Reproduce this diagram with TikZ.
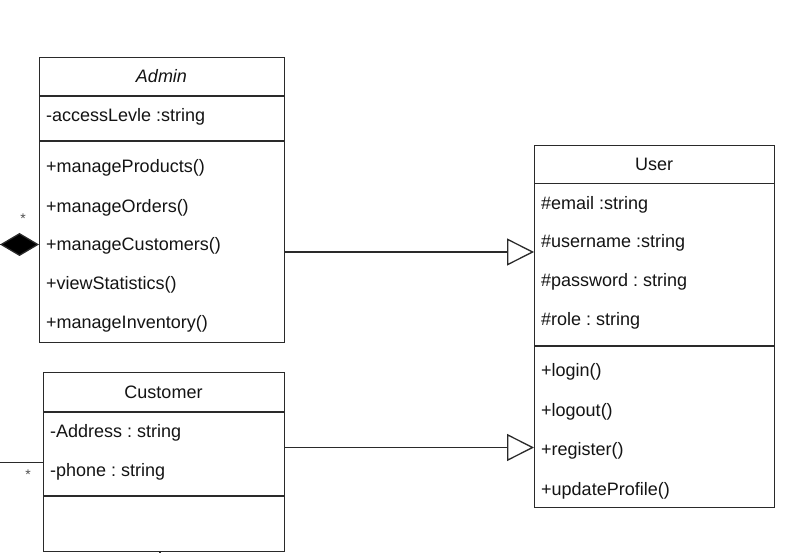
\documentclass[tikz,border=0pt]{standalone}
\usepackage{fontspec}
\setmainfont{Liberation Sans}
\usetikzlibrary{arrows.meta}
\definecolor{ink}{HTML}{141414}
\definecolor{edge}{HTML}{2A2A2A}
\frenchspacing
\begin{document}
\begin{tikzpicture}[x=1pt,y=-1pt,
  classbox/.style={draw=edge,line width=1.3pt,fill=white,rectangle,inner sep=0pt,anchor=north west},
  sep/.style={draw=edge,line width=1.3pt},
  txt/.style={inner sep=0pt,anchor=base west,text=ink,font=\fontsize{18}{20}\selectfont},
  ttl/.style={inner sep=0pt,anchor=base,text=ink,font=\fontsize{18}{20}\selectfont},
  mult/.style={inner sep=0pt,text=ink!75,font=\fontsize{14}{15}\selectfont},
  link/.style={draw=edge,line width=1.3pt},
  inherit/.style={link,-{Triangle[open,length=27pt,width=27pt,line width=1.3pt]}},
  compose/.style={link,{Diamond[length=39pt,width=23pt,fill=black]}-}
]
\useasboundingbox (0,0) rectangle (790,553);

% ---------- Admin ----------
\node[classbox,minimum width=245pt,minimum height=285pt] (admin) at (39,57) {};
\draw[sep] (39,96) -- (284,96);
\draw[sep] (39,141) -- (284,141);
\node[ttl] (adminT) at (161.5,83) {\itshape Admin};
\node[txt] (a1) at (46,122) {-accessLevle :string};
\node[txt] (a2) at (46,173) {+manageProducts()};
\node[txt] (a3) at (46,213) {+manageOrders()};
\node[txt] (a4) at (46,251) {+manageCustomers()};
\node[txt] (a5) at (46,290) {+viewStatistics()};
\node[txt] (a6) at (46,329) {+manageInventory()};

% ---------- Customer ----------
\node[classbox,minimum width=241pt,minimum height=179pt] (cust) at (43,372) {};
\draw[sep] (43,412) -- (284,412);
\draw[sep] (43,496) -- (284,496);
\node[ttl] (custT) at (163.5,398) {Customer};
\node[txt] (c1) at (50,437) {-Address : string};
\node[txt] (c2) at (50,476) {-phone : string};

% ---------- User ----------
\node[classbox,minimum width=240pt,minimum height=362pt] (user) at (534,145) {};
\draw[sep] (534,183.5) -- (774,183.5);
\draw[sep] (534,346) -- (774,346);
\node[ttl] (userT) at (654,171) {User};
\node[txt] (u1) at (541,210) {\#email :string};
\node[txt] (u2) at (541,248) {\#username :string};
\node[txt] (u3) at (541,287) {\#password : string};
\node[txt] (u4) at (541,326) {\#role : string};
\node[txt] (u5) at (541,377) {+login()};
\node[txt] (u6) at (541,416) {+logout()};
\node[txt] (u7) at (541,455) {+register()};
\node[txt] (u8) at (541,495) {+updateProfile()};

% ---------- connectors ----------
\coordinate (adminOut) at (284,252);
\coordinate (userInA) at (534,252);
\coordinate (custOut) at (284,447.5);
\coordinate (userInC) at (534,447.5);
\draw[inherit] (adminOut) -- (userInA);
\draw[inherit] (custOut) -- (userInC);

% composition end on Admin's left side
\coordinate (adminPort) at (39,244.5);
\coordinate (compFar) at (-4,244.5);
\draw[compose] (adminPort) -- (compFar);
\node[mult] (m1) at (23,219) {*};

% association end on Customer's left side
\coordinate (custPort) at (43,462.5);
\coordinate (assocFar) at (-4,462.5);
\draw[link] (custPort) -- (assocFar);
\node[mult] (m2) at (28,475) {*};

% stub leaving Customer's bottom edge
\coordinate (custBot) at (160,551);
\coordinate (custBotFar) at (160,556);
\draw[link] (custBot) -- (custBotFar);
\end{tikzpicture}
\end{document}
